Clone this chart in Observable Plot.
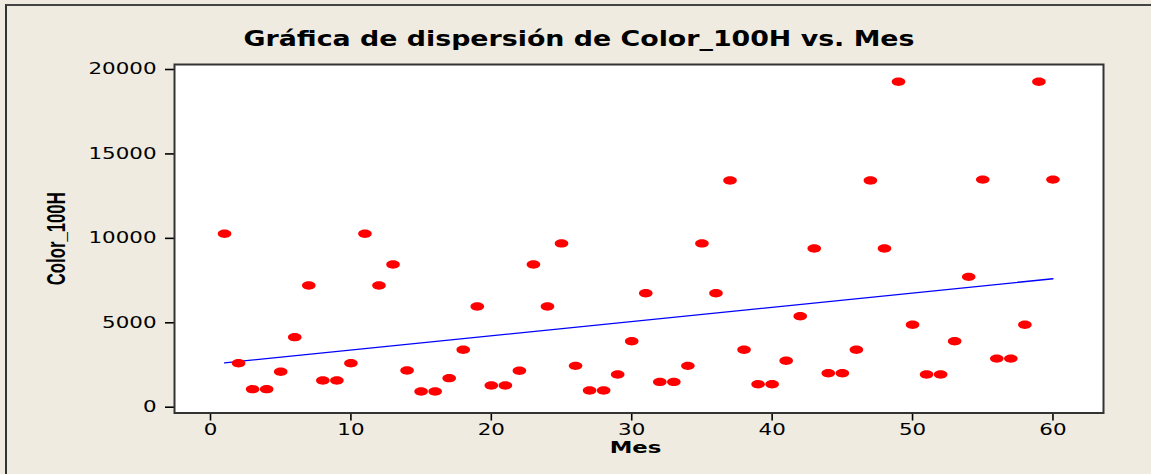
<!DOCTYPE html>
<html>
<head>
<meta charset="utf-8">
<script src="https://cdn.jsdelivr.net/npm/d3@7"></script>
<script src="https://cdn.jsdelivr.net/npm/@observablehq/plot@0.6"></script>
<style>
  html, body { margin: 0; padding: 0; background: #efebe1; width: 1151px; height: 474px; overflow: hidden; }
  #wrap { position: relative; width: 1151px; height: 474px; }
  #border { position: absolute; left: 5px; top: 4px; width: 1300px; height: 700px;
            border-left: 2px solid #333; border-top: 2px solid #444; }
  #title { position: absolute; left: 578.5px; top: 29px; white-space: nowrap;
           font-family: "DejaVu Sans", sans-serif; font-weight: bold; font-size: 20.5px;
           line-height: 20.5px; color: #000; transform-origin: 0 0; }
  #chart { position: absolute; left: 0; top: 0; }
</style>
</head>
<body>
<div id="wrap">
  <div id="border"></div>
  <div id="title">Gráfica de dispersión de Color_100H vs. Mes</div>
  <div id="chart"></div>
</div>
<script>
// ---- data ----
const mes = [1,2,3,4,5,6,7,8,9,10,11,12,13,14,15,16,17,18,19,20,
             21,22,23,24,25,26,27,28,29,30,31,32,33,34,35,36,37,38,39,40,
             41,42,43,44,45,46,47,48,49,50,51,52,53,54,55,56,57,58,59,60];
const color100H = [10270,2600,1070,1070,2100,4150,7210,1580,1580,2600,
                   10270,7210,8450,2170,930,930,1720,3400,5960,1290,
                   1290,2160,8450,5960,9700,2450,990,990,1940,3910,
                   6750,1500,1500,2450,9700,6750,13430,3400,1360,1360,
                   2750,5390,9400,2010,2010,3400,13430,9400,19270,4880,
                   1940,1940,3910,7720,13480,2880,2880,4880,19270,13480];
const xTicks = [0,10,20,30,40,50,60];
const yTicks = [0,5000,10000,15000,20000];
const titleText = "Gráfica de dispersión de Color_100H vs. Mes";
const xLabel = "Mes";
const yLabel = "Color_100H";

const data = mes.map((m, i) => ({mes: m, val: color100H[i]}));
document.getElementById("title").textContent = titleText;

// ellipse symbol
const ellipse = {
  draw(ctx, size) {
    const r = Math.sqrt(size / Math.PI);
    const rx = r * 1.62, ry = r, k = 0.5523;
    ctx.moveTo(rx, 0);
    ctx.bezierCurveTo(rx, k*ry, k*rx, ry, 0, ry);
    ctx.bezierCurveTo(-k*rx, ry, -rx, k*ry, -rx, 0);
    ctx.bezierCurveTo(-rx, -k*ry, -k*rx, -ry, 0, -ry);
    ctx.bezierCurveTo(k*rx, -ry, rx, -k*ry, rx, 0);
    ctx.closePath();
  }
};

const W = 1151, H = 474;
const mL = 174, mR = 48, mT = 64, mB = 61.5;

const plot = Plot.plot({
  width: W, height: H,
  marginLeft: mL, marginRight: mR, marginTop: mT, marginBottom: mB,
  style: { background: "transparent", fontFamily: "DejaVu Sans, sans-serif", fontSize: "15.5px", color: "#000", overflow: "visible" },
  x: { domain: [-2.564, 63.6] },
  y: { domain: [-343, 20296] },
  marks: [
    Plot.frame({ fill: "white", stroke: "none" }),
    Plot.axisX({ ticks: xTicks, tickSize: 8, tickPadding: 3, strokeWidth: 1.6, label: null, fontSize: 15.5 }),
    Plot.axisY({ ticks: yTicks, tickSize: 9, tickPadding: 9, strokeWidth: 1.6, label: null, fontSize: 15.5, tickFormat: d => String(d) }),
    Plot.linearRegressionY(data, { x: "mes", y: "val", stroke: "#0000ff", strokeWidth: 1.3, ci: 0 }),
    Plot.dot(data, { x: "mes", y: "val", r: 4.2, symbol: ellipse, fill: "#ff0000", stroke: "none" }),
    Plot.frame({ stroke: "#333", strokeWidth: 2 }),
    Plot.text([xLabel], { frameAnchor: "bottom", dy: 39.5, dx: -3.5, text: d => d, fontWeight: "bold", fontSize: 16.5, fill: "#000" }),
    Plot.text([yLabel], { frameAnchor: "left", dx: -118, rotate: -90, text: d => d, fontWeight: "bold", fontSize: 25, fontFamily: "Liberation Sans, Arial, sans-serif", fill: "#000" })
  ]
});
document.getElementById("chart").appendChild(plot);

// horizontal stretch of text to mimic the reference rendering
const S = 1.38;
d3.select(plot).selectAll("text").each(function() {
  const len = this.getComputedTextLength();
  if (this.textContent === yLabel) {
    this.setAttribute("text-anchor", "start");
    this.setAttribute("x", -46.5);
    this.setAttribute("textLength", 93);
  } else {
    this.setAttribute("textLength", (len * S).toFixed(2));
  }
  this.setAttribute("lengthAdjust", "spacingAndGlyphs");
});

// title: centered at x=578.5, stretched to match
const t = document.getElementById("title");
const tw = t.getBoundingClientRect().width;
const sx = 671 / tw;
t.style.transform = `translateX(${-671/2}px) scaleX(${sx})`;
</script>
</body>
</html>
